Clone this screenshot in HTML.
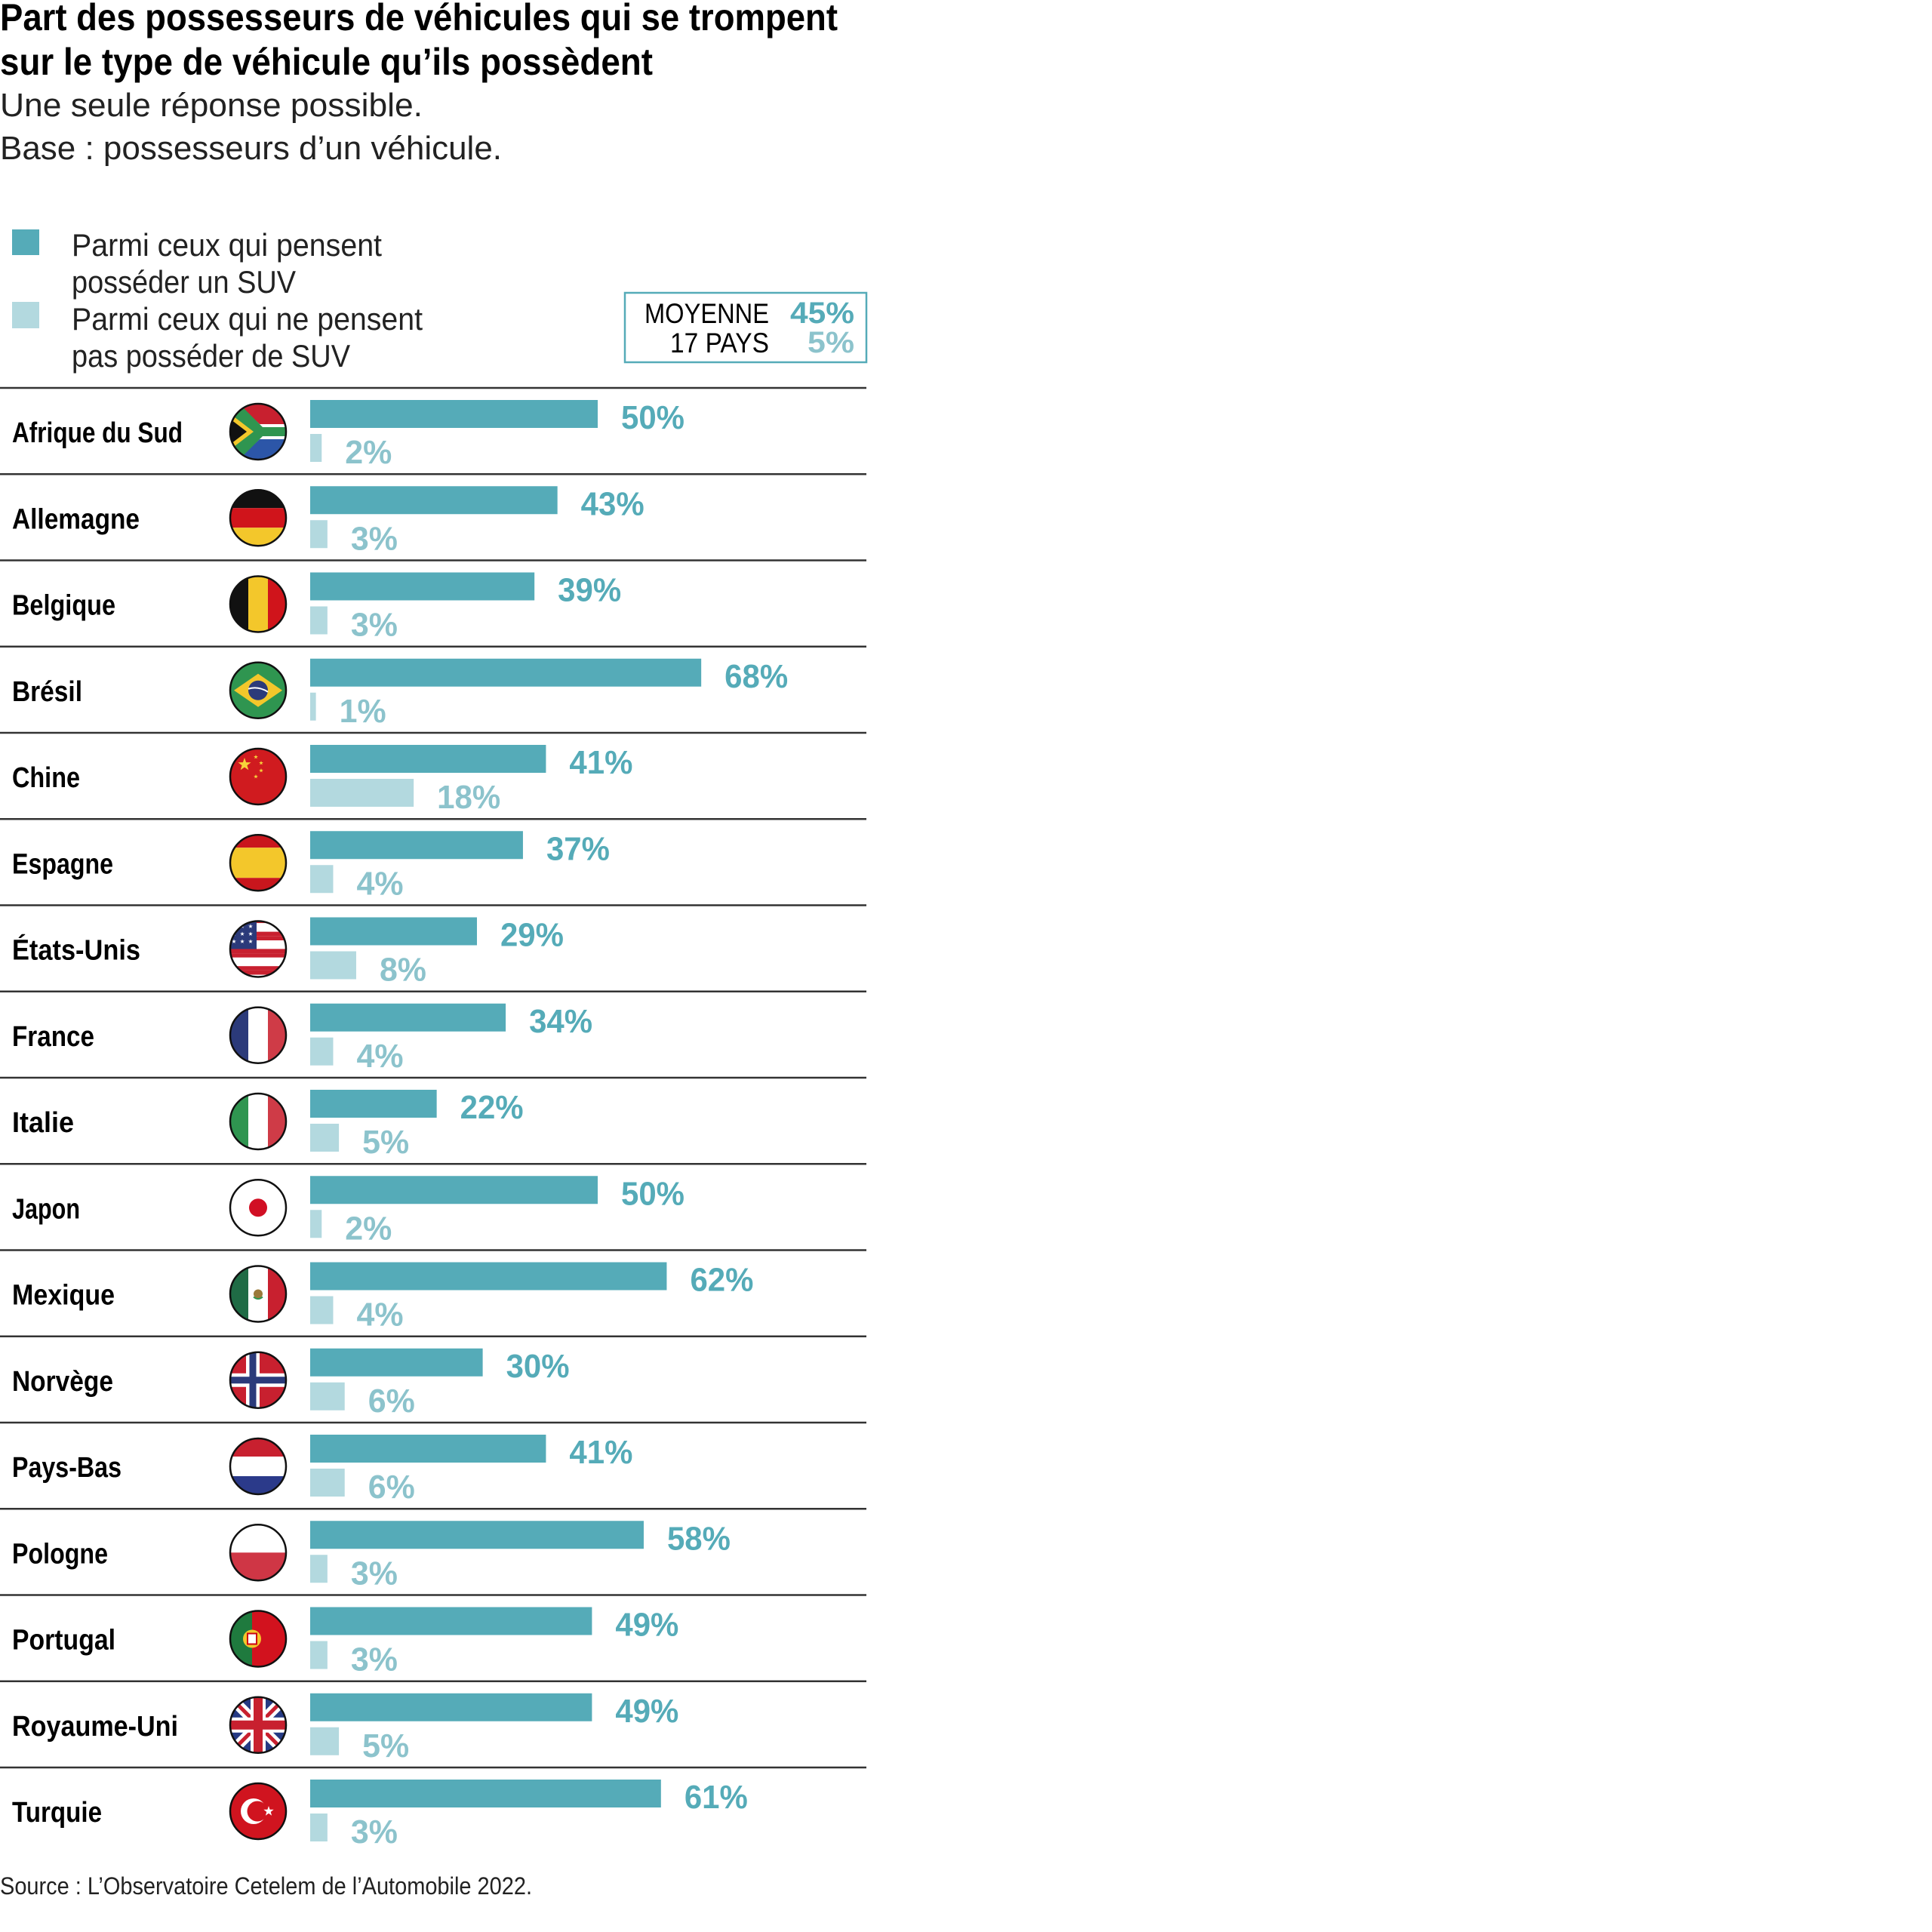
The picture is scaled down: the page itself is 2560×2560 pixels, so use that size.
<!DOCTYPE html>
<html><head><meta charset="utf-8">
<style>
html,body{margin:0;padding:0;background:#fff;}
svg{display:block;}
text{font-family:"Liberation Sans Narrow","Liberation Sans",sans-serif;}
</style></head>
<body>
<svg id="s" width="2560" height="2560" viewBox="0 0 2560 2560" xmlns="http://www.w3.org/2000/svg">
<defs><clipPath id="cc"><circle cx="0" cy="0" r="37"/></clipPath></defs>
<rect width="2560" height="2560" fill="#fff"/>
<text x="0" y="40" font-size="50" font-weight="bold" textLength="1110" lengthAdjust="spacingAndGlyphs">Part des possesseurs de véhicules qui se trompent</text>
<text x="0" y="99" font-size="50" font-weight="bold" textLength="865" lengthAdjust="spacingAndGlyphs">sur le type de véhicule qu’ils possèdent</text>
<text x="0" y="154" font-size="44" fill="#222" textLength="560" lengthAdjust="spacingAndGlyphs">Une seule réponse possible.</text>
<text x="0" y="211" font-size="44" fill="#222" textLength="665" lengthAdjust="spacingAndGlyphs">Base : possesseurs d’un véhicule.</text>
<rect x="16" y="304" width="36" height="34" fill="#55abb8"/>
<rect x="16" y="400" width="36" height="35" fill="#b3d9df"/>
<text x="95" y="339" font-size="42" fill="#222" textLength="411" lengthAdjust="spacingAndGlyphs">Parmi ceux qui pensent</text>
<text x="95" y="388" font-size="42" fill="#222" textLength="297" lengthAdjust="spacingAndGlyphs">posséder un SUV</text>
<text x="95" y="437" font-size="42" fill="#222" textLength="465" lengthAdjust="spacingAndGlyphs">Parmi ceux qui ne pensent</text>
<text x="95" y="486" font-size="42" fill="#222" textLength="369" lengthAdjust="spacingAndGlyphs">pas posséder de SUV</text>
<rect x="828" y="388" width="320" height="92" fill="none" stroke="#55abb8" stroke-width="2.5"/>
<text x="854" y="428" font-size="37" textLength="165" lengthAdjust="spacingAndGlyphs">MOYENNE</text>
<text x="888" y="467" font-size="37" textLength="131" lengthAdjust="spacingAndGlyphs">17 PAYS</text>
<text x="1047" y="428" font-size="40" font-weight="bold" fill="#55abb8" textLength="85" lengthAdjust="spacingAndGlyphs">45%</text>
<text x="1070" y="467" font-size="40" font-weight="bold" fill="#8cc3cc" textLength="62" lengthAdjust="spacingAndGlyphs">5%</text>
<text x="0" y="2510" font-size="32" fill="#222" textLength="705" lengthAdjust="spacingAndGlyphs">Source : L’Observatoire Cetelem de l’Automobile 2022.</text>
<g id="rows"></g>
</svg>
<script>
var data=[["Afrique du Sud",226,50,2,"za"],["Allemagne",169,43,3,"de"],["Belgique",137,39,3,"be"],["Brésil",93,68,1,"br"],["Chine",90,41,18,"cn"],["Espagne",134,37,4,"es"],["États-Unis",170,29,8,"us"],["France",109,34,4,"fr"],["Italie",82,22,5,"it"],["Japon",90,50,2,"jp"],["Mexique",136,62,4,"mx"],["Norvège",134,30,6,"no"],["Pays-Bas",145,41,6,"nl"],["Pologne",127,58,3,"pl"],["Portugal",137,49,3,"pt"],["Royaume-Uni",220,49,5,"gb"],["Turquie",119,61,3,"tr"]];
var R="#c8202f",B="#2b3a7a",G="#2f9550",Y="#f3c72b",W="#fff",K="#111";
function star(cx,cy,r,f){var p=[];for(var i=0;i<10;i++){var a=-Math.PI/2+i*Math.PI/5,rr=i%2?r*0.4:r;p.push((cx+rr*Math.cos(a)).toFixed(1)+","+(cy+rr*Math.sin(a)).toFixed(1));}return '<polygon points="'+p.join(" ")+'" fill="'+f+'"/>';}
function rect(x,y,w,h,f){return '<rect x="'+x+'" y="'+y+'" width="'+w+'" height="'+h+'" fill="'+f+'"/>';}
function hs(a,b,c){return rect(-40,-40,80,27,a)+rect(-40,-13,80,26,b)+rect(-40,13,80,27,c);}
function vs(a,b,c){return rect(-40,-40,27,80,a)+rect(-13,-40,26,80,b)+rect(13,-40,27,80,c);}
var F={
za:rect(-40,-40,80,40,R)+rect(-40,0,80,40,"#2c56a8")+'<polygon points="-40,-40 -30,-40 2,-10 40,-10 40,10 2,10 -30,40 -40,40" fill="'+W+'"/>'+'<polygon points="-40,-34 -22,-34 6,-6 40,-6 40,6 6,6 -22,34 -40,34" fill="'+G+'"/><polygon points="-40,-26 -6,0 -40,26" fill="'+Y+'"/><polygon points="-40,-19 -15,0 -40,19" fill="'+K+'"/>',
de:hs(K,"#d0141b",Y),
be:vs(K,Y,"#d0141b"),
br:rect(-40,-40,80,80,G)+'<polygon points="-32,0 0,-22 32,0 0,22" fill="'+Y+'"/><circle r="13" fill="'+B+'"/><path d="M-13,-2 Q0,-6 13,2" stroke="#fff" stroke-width="2" fill="none"/>',
cn:rect(-40,-40,80,80,"#d01b1f")+star(-18,-16,9,"#f6d33a")+star(-3,-26,3,"#f6d33a")+star(4,-18,3,"#f6d33a")+star(4,-8,3,"#f6d33a")+star(-3,0,3,"#f6d33a"),
es:rect(-40,-40,80,20,"#c9161d")+rect(-40,-20,80,40,Y)+rect(-40,20,80,20,"#c9161d"),
us:(function(){var s="";for(var i=0;i<7;i++)s+=rect(-40,-40+i*11.4,80,5.7,i%2?W:R)+rect(-40,-34.3+i*11.4,80,5.7,i%2?R:W);s+=rect(-40,-40,38,40,"#2b3a7a");for(var j=0;j<3;j++)for(var k=0;k<3;k++)s+=star(-32+k*11,-30+j*10,3,W);return s;})(),
fr:vs(B,W,"#cf3b47"),
it:vs(G,W,"#cf3b47"),
jp:rect(-40,-40,80,80,W)+'<circle r="12" fill="#d10f24"/>',
mx:vs("#1f6b45",W,"#c8202f")+'<circle r="6" fill="#9a7a3a"/><path d="M-6,4 Q0,9 6,4" stroke="#2f9550" stroke-width="2" fill="none"/>',
no:rect(-40,-40,80,80,R)+rect(-40,-9,80,18,W)+rect(-16,-40,18,80,W)+rect(-40,-4.5,80,9,B)+rect(-11.5,-40,9,80,B),
nl:hs("#c8202f",W,"#2b3a8a"),
pl:rect(-40,-40,80,40,W)+rect(-40,0,80,40,"#cf3645"),
pt:rect(-40,-40,32,80,"#1f7a3e")+rect(-8,-40,48,80,"#d2121e")+'<circle cx="-8" cy="0" r="12" fill="'+Y+'"/><rect x="-14" y="-7" width="12" height="14" fill="'+W+'" stroke="#c01" stroke-width="2"/>',
gb:rect(-40,-40,80,80,"#263a84")+'<path d="M-40,-40 L40,40 M40,-40 L-40,40" stroke="#fff" stroke-width="14"/><path d="M-40,-40 L40,40 M40,-40 L-40,40" stroke="'+R+'" stroke-width="5"/>'+rect(-40,-10,80,20,W)+rect(-10,-40,20,80,W)+rect(-40,-6,80,12,R)+rect(-6,-40,12,80,R),
tr:rect(-40,-40,80,80,"#d0141f")+'<circle cx="-6" cy="0" r="17" fill="#fff"/><circle cx="-1" cy="0" r="13.5" fill="#d0141f"/>'+star(14,0,7,W)
};
var h="",top0=514,pitch=114.25,x0=411,k=7.62;
data.forEach(function(d,i){
 var y=top0+i*pitch;
 h+='<line x1="0" x2="1148" y1="'+y+'" y2="'+y+'" stroke="#333" stroke-width="2.5"/>';
 h+='<text x="16" y="'+(y+72)+'" font-size="38" font-weight="bold" textLength="'+d[1]+'" lengthAdjust="spacingAndGlyphs">'+d[0]+'</text>';
 h+='<g transform="translate(342,'+(y+58)+')"><g clip-path="url(#cc)">'+F[d[4]]+'</g><circle r="37" fill="none" stroke="#111" stroke-width="2.5"/></g>';
 var w1=d[2]*k,w2=Math.max(d[3]*k,6);
 h+=rect(x0,y+16,w1,37,"#55abb8")+rect(x0,y+61,w2,37,"#b3d9df");
 var t1=d[2]+"%",t2=d[3]+"%";
 h+='<text x="'+(x0+w1+31)+'" y="'+(y+54)+'" font-size="44" font-weight="bold" fill="#55abb8" textLength="'+(String(d[2]).length*22+40)+'" lengthAdjust="spacingAndGlyphs">'+t1+'</text>';
 h+='<text x="'+(x0+w2+31)+'" y="'+(y+100)+'" font-size="44" font-weight="bold" fill="#8cc3cc" textLength="'+(String(d[3]).length*22+40)+'" lengthAdjust="spacingAndGlyphs">'+t2+'</text>';
});
document.getElementById("rows").innerHTML=h;
</script>
</body></html>
